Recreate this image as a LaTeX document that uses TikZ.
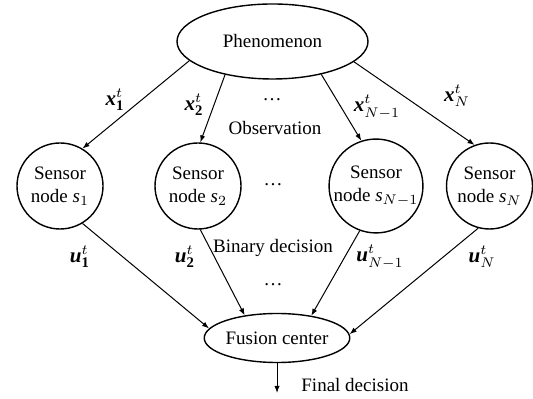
\documentclass[tikz,border=0pt]{standalone}
\usepackage{fontspec}
\setmainfont{Liberation Serif}
\usepackage{tikz}
\usetikzlibrary{arrows.meta,positioning,shapes.geometric}
\newcommand{\mainsize}{\fontsize{9.5}{11.5}\selectfont}
\newcommand{\obsx}[1]{$\textbf{\textit{x}}^{t}_{#1}$}
\newcommand{\decu}[1]{$\textbf{\textit{u}}^{t}_{#1}$}
\tikzset{
  phenom/.style={draw, ellipse, line width=0.7pt, inner sep=0pt, minimum width=95.5pt, minimum height=37.5pt, font=\mainsize},
  sensor/.style={draw, circle, line width=0.7pt, inner sep=0pt, minimum size=43pt, align=center, font=\mainsize},
  fusion/.style={draw, ellipse, line width=0.7pt, inner sep=0pt, minimum width=71.5pt, minimum height=24.5pt, font=\mainsize},
  tag/.style={font=\mainsize, inner sep=1pt},
  symtag/.style={font=\fontsize{10.5}{12}\selectfont, inner sep=1pt},
  arrow/.style={-{Latex[length=3.5pt,width=2.6pt]}, line width=0.5pt}
}
\begin{document}
\begin{tikzpicture}[x=0.5pt, y=0.5pt]
  \useasboundingbox (0,0) rectangle (533,399);
  \node[phenom] (phen) at (272.5,357.5) {Phenomenon};
  \node[sensor] (s1) at (60,213) {Sensor\\node \textit{s}$_1$};
  \node[sensor] (s2) at (198,213) {Sensor\\node \textit{s}$_2$};
  \node[sensor] (sn1) at (376,213) {Sensor\\node \textit{s}$_{N-1}$};
  \node[sensor] (sn) at (489.5,213) {Sensor\\node \textit{s}$_N$};
  \node[fusion] (fuse) at (277,61) {Fusion center};
  \coordinate (out) at (277,6);

  % observations
  \node[symtag] (x1) at (115,299) {\obsx{\mathbf{1}}};
  \node[symtag] (x2) at (194,294) {\obsx{\mathbf{2}}};
  \node[tag] (dotsobs) at (272,299) {\dots};
  \node[tag] (obs) at (275,271) {Observation};
  \node[symtag] (xn1) at (377,292) {\obsx{N-1}};
  \node[symtag] (xn) at (457,303) {\obsx{N}};
  \node[tag] (dotsmid) at (273,214) {\dots};

  % decisions
  \node[tag] (bin) at (273,151) {Binary decision};
  \node[symtag] (u1) at (80,142) {\decu{\mathbf{1}}};
  \node[symtag] (u2) at (185,142) {\decu{\mathbf{2}}};
  \node[symtag] (un1) at (380,142) {\decu{N-1}};
  \node[symtag] (un) at (482,142) {\decu{N}};
  \node[tag] (dotsdec) at (273,114) {\dots};
  \node[tag, anchor=west] (final) at (299,14) {Final decision};

  \draw[arrow] (phen.193) -- (s1.59);
  \draw[arrow] (phen.215) -- (s2.87);
  \draw[arrow] (phen.326) -- (sn1.108);
  \draw[arrow] (phen.346) -- (sn.110);
  \draw[arrow] (s1.301) -- (fuse.172);
  \draw[arrow] (s2.273) -- (fuse.145);
  \draw[arrow] (sn1.250) -- (fuse.33);
  \draw[arrow] (sn.255) -- (fuse.3);
  \draw[arrow] (fuse.south) -- (out);
\end{tikzpicture}
\end{document}
